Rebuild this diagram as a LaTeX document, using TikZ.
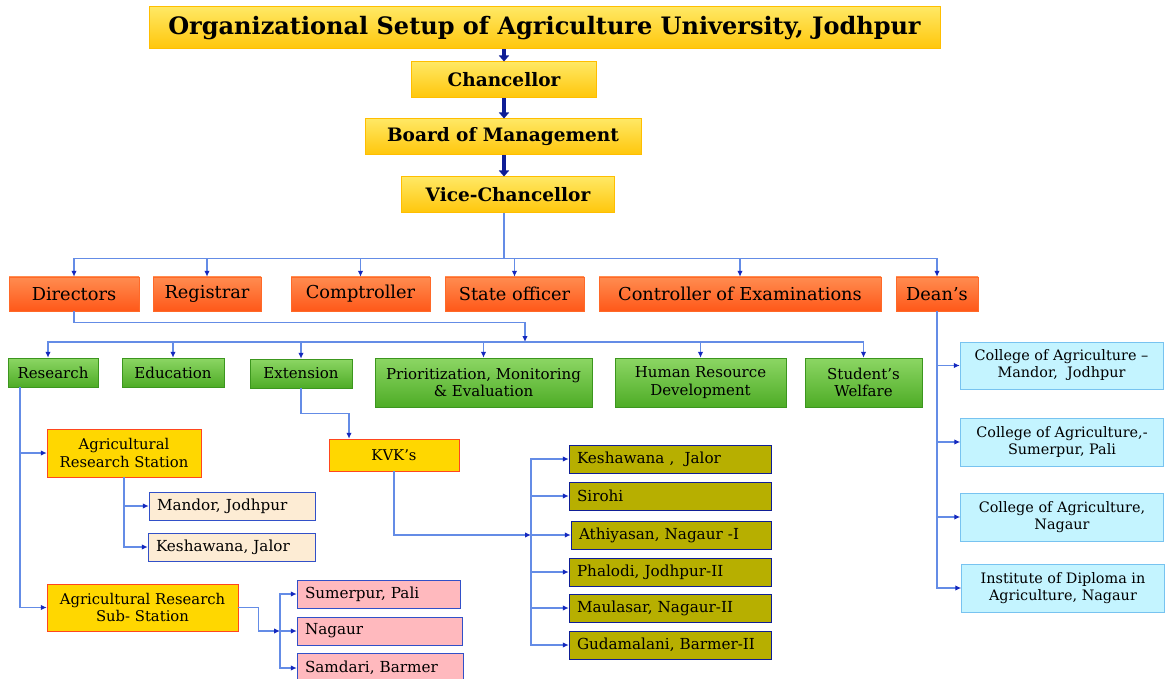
\documentclass[tikz,border=0pt]{standalone}
\usepackage{fontspec}
\setmainfont{DejaVu Serif}
\usepackage{tikz}
\usetikzlibrary{arrows.meta,positioning}
\usepackage{xcolor}

\definecolor{goldtop}{RGB}{255,232,100}
\definecolor{goldbot}{RGB}{255,198,10}
\definecolor{goldline}{RGB}{255,190,0}
\definecolor{orangetop}{RGB}{255,140,80}
\definecolor{orangebot}{RGB}{255,88,25}
\definecolor{orangeline}{RGB}{255,105,40}
\definecolor{greentop}{RGB}{140,214,100}
\definecolor{greenbot}{RGB}{78,172,38}
\definecolor{greenline}{RGB}{60,150,30}
\definecolor{stationfill}{RGB}{255,215,0}
\definecolor{stationline}{RGB}{255,70,30}
\definecolor{creamfill}{RGB}{253,236,212}
\definecolor{pinkfill}{RGB}{255,185,190}
\definecolor{olivefill}{RGB}{183,175,0}
\definecolor{cyanfill}{RGB}{196,244,255}
\definecolor{cyanline}{RGB}{120,195,240}
\definecolor{boxblue}{RGB}{50,80,200}
\definecolor{linkblue}{RGB}{100,140,230}
\definecolor{headblue}{RGB}{20,40,190}
\definecolor{navy}{RGB}{15,30,150}

\tikzstyle{box} = [rectangle, inner sep=2pt, align=center, text=black]
\tikzstyle{topbox} = [box, draw=goldline, line width=1pt, top color=goldtop, bottom color=goldbot, font=\bfseries\fontsize{18.5}{22}\selectfont, minimum height=36pt]
\tikzstyle{office} = [box, draw=orangeline, top color=orangetop, bottom color=orangebot, font=\fontsize{17.8}{21}\selectfont, minimum height=34pt]
\tikzstyle{wing} = [box, draw=greenline, top color=greentop, bottom color=greenbot, font=\fontsize{15}{17.5}\selectfont]
\tikzstyle{station} = [box, draw=stationline, fill=stationfill, font=\fontsize{14.8}{17.5}\selectfont]
\tikzstyle{place} = [box, draw=boxblue, align=left, inner xsep=8pt, minimum height=28pt, font=\fontsize{15.2}{18}\selectfont]
\tikzstyle{college} = [box, draw=cyanline, fill=cyanfill, minimum width=203pt, minimum height=48pt, font=\fontsize{14.4}{17}\selectfont]
\tikzstyle{link} = [draw=linkblue, line width=1.4pt, -{Latex[length=6pt,width=5.5pt,color=headblue]}]
\tikzstyle{bigarrow} = [draw=navy, line width=4pt, -{Triangle[length=6pt,width=10pt]}]

\begin{document}
\begin{tikzpicture}[x=1pt, y=-1pt]
        \clip (0,0) rectangle (1165,679);
        % top of the chart
        \node[topbox, minimum width=791pt, minimum height=42pt, font=\bfseries\fontsize{24}{28}\selectfont] (title) at (544.5,28) {Organizational Setup of Agriculture University, Jodhpur};
        \node[topbox, minimum width=185pt] (chan) at (504,80) {Chancellor};
        \node[topbox, minimum width=276pt] (board) at (503,137) {Board of Management};
        \node[topbox, minimum width=213pt] (vc) at (508,195) {Vice-Chancellor};
        \draw[bigarrow] (chan.north |- title.south) -- (chan.north);
        \draw[bigarrow] (chan.south) -- (chan.south |- board.north);
        \draw[bigarrow] (chan.south |- board.south) -- (chan.south |- vc.north);

        % offices under the vice-chancellor
        \node[office, minimum width=130pt] (dir) at (74,294) {Directors};
        \node[office, minimum width=108pt] (reg) at (207,294) {Registrar};
        \node[office, minimum width=139pt] (comp) at (360.5,294) {Comptroller};
        \node[office, minimum width=139pt] (state) at (514.5,294) {State officer};
        \node[office, minimum width=282pt] (coe) at (740,294) {Controller of Examinations};
        \node[office, minimum width=82pt] (dean) at (937,294) {Dean's};
        \draw[link] (chan.south |- vc.south) -- ++(0,45) -| (dir.north);
        \draw[link] (chan.south |- vc.south) -- ++(0,45) -| (reg.north);
        \draw[link] (chan.south |- vc.south) -- ++(0,45) -| (comp.north);
        \draw[link] (chan.south |- vc.south) -- ++(0,45) -| (state.north);
        \draw[link] (chan.south |- vc.south) -- ++(0,45) -| (coe.north);
        \draw[link] (chan.south |- vc.south) -- ++(0,45) -| (dean.north);

        % directorates
        \coordinate (dbus) at (525,342);
        \node[wing, minimum width=90pt, minimum height=29pt] (res) at (53,372.5) {Research};
        \node[wing, minimum width=102pt, minimum height=29pt] (edu) at (173,372.5) {Education};
        \node[wing, minimum width=102pt, minimum height=29pt] (ext) at (301,373.5) {Extension};
        \node[wing, minimum width=217pt, minimum height=49pt] (pme) at (483.5,382.5) {Prioritization, Monitoring\\\& Evaluation};
        \node[wing, minimum width=171pt, minimum height=49pt] (hrd) at (700.5,382.5) {Human Resource\\Development};
        \node[wing, minimum width=117pt, minimum height=49pt] (sw) at (863.5,382.5) {Student's\\Welfare};
        \draw[link] (dir.south) -- ++(0,11) -| (dbus);
        \draw[link] (dbus) -| ([xshift=-5pt]res.north);
        \draw[link] (dbus) -| (edu.north);
        \draw[link] (dbus) -| (ext.north);
        \draw[link] (dbus) -| (pme.north);
        \draw[link] (dbus) -| (hrd.north);
        \draw[link] (dbus) -| (sw.north);

        % research stations
        \node[station, minimum width=154pt, minimum height=48pt] (ars) at (124,453) {Agricultural\\Research Station};
        \node[place, fill=creamfill, text width=150pt] (mandor) at (232,506) {Mandor, Jodhpur};
        \node[place, fill=creamfill, text width=151pt] (kesh) at (231.5,547) {Keshawana, Jalor};
        \node[station, minimum width=191pt, minimum height=47pt] (arss) at (142.5,607.5) {Agricultural Research\\Sub- Station};
        \node[place, fill=pinkfill, text width=147pt] (sum) at (378.5,594) {Sumerpur, Pali};
        \node[place, fill=pinkfill, text width=149pt] (nag) at (379.5,631) {Nagaur};
        \node[place, fill=pinkfill, text width=150pt, minimum height=30pt] (sam) at (380,668) {Samdari, Barmer};
        \draw[link] ([xshift=12pt]res.south west) |- (ars.west);
        \draw[link] ([xshift=12pt]res.south west) |- (arss.west);
        \draw[link] (ars.south) |- (mandor.west);
        \draw[link] (ars.south) |- (kesh.west);
        \coordinate (sbus) at (280,631);
        \draw[link] (arss.east) -- ++(20,0) |- (sbus);
        \draw[link] (sbus) |- (sum.west);
        \draw[link] (sbus) -- (nag.west);
        \draw[link] (sbus) |- (sam.west);

        % krishi vigyan kendras
        \node[station, minimum width=130pt, minimum height=32pt] (kvk) at (394,455) {KVK’s};
        \node[place, fill=olivefill, draw=navy, text width=186pt] (kvk1) at (670,459) {Keshawana ,\ \ Jalor};
        \node[place, fill=olivefill, draw=navy, text width=186pt] (kvk2) at (670,496) {Sirohi};
        \node[place, fill=olivefill, draw=navy, text width=184pt] (kvk3) at (671,535) {Athiyasan, Nagaur -I};
        \node[place, fill=olivefill, draw=navy, text width=186pt] (kvk4) at (670,572) {Phalodi, Jodhpur-II};
        \node[place, fill=olivefill, draw=navy, text width=186pt] (kvk5) at (670,608) {Maulasar, Nagaur-II};
        \node[place, fill=olivefill, draw=navy, text width=186pt] (kvk6) at (670,645) {Gudamalani, Barmer-II};
        \coordinate (kbus) at (531,535);
        \draw[link] (ext.south) -- ++(0,25) -| ([xshift=-45pt]kvk.north);
        \draw[link] (kvk.south) |- (kbus);
        \draw[link] (kbus) |- (kvk1.west);
        \draw[link] (kbus) |- (kvk2.west);
        \draw[link] (kbus) -- (kvk3.west);
        \draw[link] (kbus) |- (kvk4.west);
        \draw[link] (kbus) |- (kvk5.west);
        \draw[link] (kbus) |- (kvk6.west);

        % colleges
        \node[college, minimum height=47pt] (col1) at (1061.5,365.5) {College of Agriculture –\\Mandor,\ \ Jodhpur};
        \node[college] (col2) at (1062,442) {College of Agriculture,-\\Sumerpur, Pali};
        \node[college] (col3) at (1062,517) {College of Agriculture,\\Nagaur};
        \node[college] (col4) at (1063,588) {Institute of Diploma in\\Agriculture, Nagaur};
        \draw[link] (dean.south) |- (col1.west);
        \draw[link] (dean.south) |- (col2.west);
        \draw[link] (dean.south) |- (col3.west);
        \draw[link] (dean.south) |- (col4.west);
      \end{tikzpicture}
\end{document}
